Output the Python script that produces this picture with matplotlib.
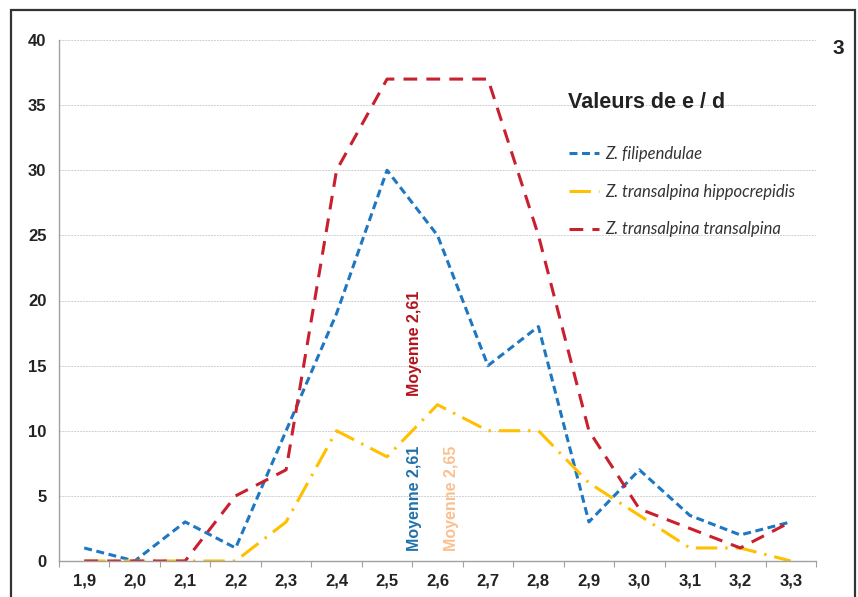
import matplotlib.pyplot as plt
import numpy as np
from matplotlib.patches import Rectangle

categories = ["1,9", "2,0", "2,1", "2,2", "2,3", "2,4", "2,5", "2,6",
              "2,7", "2,8", "2,9", "3,0", "3,1", "3,2", "3,3"]
filipendulae = [1, 0, 3, 1, 10, 19, 30, 25, 15, 18, 3, 7, 3.5, 2, 3]
hippocrepidis = [0, 0, 0, 0, 3, 10, 8, 12, 10, 10, 6, 3.5, 1, 1, 0]
transalpina = [0, 0, 0, 5, 7, 30, 37, 37, 37, 25, 10, 4, 2.5, 1, 3]
y_ticks = [0, 5, 10, 15, 20, 25, 30, 35, 40]

NARROW = ["Liberation Sans Narrow", "Liberation Sans", "DejaVu Sans"]
ITALIC = ["Lato", "DejaVu Sans"]

BLUE = "#1E77C2"
RED = "#C8202F"
YELLOW = "#FFC000"

fig = plt.figure(figsize=(8.58, 5.97), dpi=100)
ax = fig.add_axes([59 / 858, 1 - 561 / 597, 757 / 858, 521 / 597])

x = np.arange(len(categories))
ax.plot(x, filipendulae, color=BLUE, lw=2.2, ls=(0, (2.6, 1.5)),
        label="Z. filipendulae")
ax.plot(x, hippocrepidis, color=YELLOW, lw=2.2, ls=(0, (7, 2.6, 0.8, 2.6)),
        label="Z. transalpina hippocrepidis")
ax.plot(x, transalpina, color=RED, lw=2.2, ls=(0, (4.5, 3.0)),
        label="Z. transalpina transalpina")

ax.set_xlim(-0.5, len(categories) - 0.5)
ax.set_ylim(0, 40)
ax.set_yticks(y_ticks)
ax.set_yticklabels([str(v) for v in y_ticks], family=NARROW,
                   fontweight="bold", fontsize=12, color="#222222")
ax.tick_params(axis="y", length=0, pad=9)

ax.set_xticks(np.arange(len(categories) + 1) - 0.5)
ax.set_xticklabels([])
ax.set_xticks(x, minor=True)
ax.set_xticklabels(categories, minor=True, family=NARROW,
                   fontweight="bold", fontsize=12, color="#222222")
ax.tick_params(axis="x", which="major", length=4, color="#a0a0a0")
ax.tick_params(axis="x", which="minor", length=0, pad=9)

ax.grid(axis="y", color="#d0d0d0", lw=0.7, ls=(0, (2, 1)))
ax.set_axisbelow(True)
for s in ["top", "right"]:
    ax.spines[s].set_visible(False)
for s in ["left", "bottom"]:
    ax.spines[s].set_color("#a0a0a0")
    ax.spines[s].set_linewidth(1)

# mean labels
ax.text(0.469, 0.418, "Moyenne 2,61", transform=ax.transAxes, rotation=90,
        ha="center", va="center", color="#B5121B", family=NARROW,
        fontweight="bold", fontsize=11.5)
ax.text(0.470, 0.120, "Moyenne 2,61", transform=ax.transAxes, rotation=90,
        ha="center", va="center", color="#1F72AA", family=NARROW,
        fontweight="bold", fontsize=11.5)
ax.text(0.518, 0.120, "Moyenne 2,65", transform=ax.transAxes, rotation=90,
        ha="center", va="center", color="#FAC090", family=NARROW,
        fontweight="bold", fontsize=11.5)

# legend
fig.text(568 / 858, 1 - 103 / 597, "Valeurs de e / d", family=NARROW,
         fontweight="bold", fontsize=15.5, ha="left", va="center",
         color="#222222")
leg = ax.legend(loc="upper left", bbox_to_anchor=(554 / 858, 1 - 131 / 597),
                bbox_transform=fig.transFigure, frameon=False,
                handlelength=1.8, handletextpad=0.35, labelspacing=1.3,
                prop={"family": ITALIC, "style": "italic", "size": 12})
for t in leg.get_texts():
    t.set_color("#333333")

fig.text(838 / 858, 1 - 48 / 597, "3", family=NARROW, fontweight="bold",
         fontsize=15, ha="center", va="center", color="#222222")

fig.patches.append(Rectangle((11 / 858, -0.02), 844 / 858, 1.02 - 10 / 597,
                             transform=fig.transFigure, fill=False,
                             edgecolor="#333333", lw=1.6))

fig.savefig("out.png", dpi=100)
